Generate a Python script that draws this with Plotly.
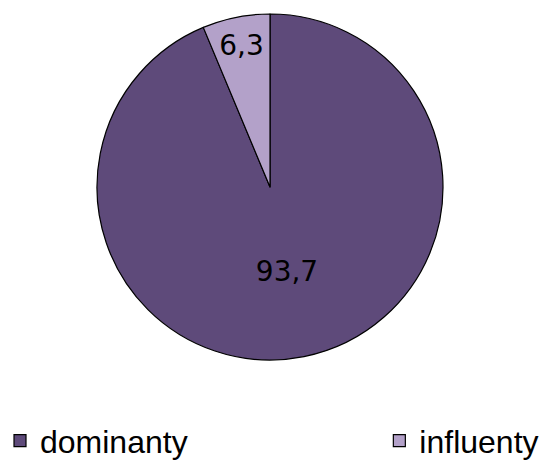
import plotly.graph_objects as go

categories = ["dominanty", "influenty"]
values = [93.7, 6.3]
value_labels = ["93,7", "6,3"]
colors = ["#5E4A7A", "#B3A1C9"]

W, H = 547, 460
cx, cy, r = 270, 187, 173

# legend entries: the first one is padded with non-breaking spaces so that the
# second entry sits at the right-hand side, as in the original
legend_pad = "\u00a0" * 21
legend_labels = [categories[0] + legend_pad, categories[1]]

fig = go.Figure(go.Pie(
    labels=legend_labels,
    values=values,
    text=value_labels,
    textinfo="text",
    textposition="inside",
    insidetextorientation="horizontal",
    textfont=dict(family="DejaVu Sans", size=28, color="#000000"),
    marker=dict(colors=colors, line=dict(color="#000000", width=1.2)),
    sort=False,
    direction="clockwise",
    rotation=0,
    hoverinfo="label+value",
    domain=dict(x=[(cx - r) / W, (cx + r) / W], y=[(H - cy - r) / H, (H - cy + r) / H]),
))

fig.update_layout(
    width=W, height=H,
    margin=dict(l=0, r=0, t=0, b=0, autoexpand=False),
    paper_bgcolor="#ffffff",
    plot_bgcolor="#ffffff",
    font=dict(family="Liberation Sans", color="#000000"),
    showlegend=True,
    legend=dict(
        orientation="h",
        x=0, y=-0.018, xanchor="left", yanchor="bottom",
        font=dict(family="Liberation Sans", size=32, color="#000000"),
        itemwidth=30,
        bgcolor="rgba(0,0,0,0)",
    ),
)

fig.write_html(
    "out.html",
    config={"displayModeBar": False},
    post_script="document.body.style.margin='0';document.body.style.overflow='hidden';",
)
